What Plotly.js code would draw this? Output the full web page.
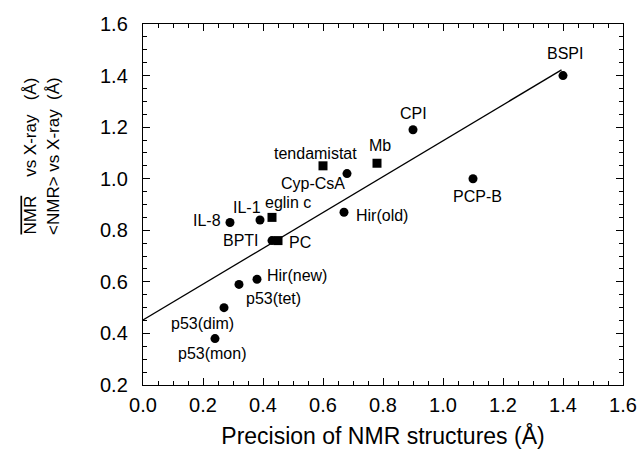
<!DOCTYPE html>
<html>
<head>
<meta charset="utf-8">
<script src="https://cdn.plot.ly/plotly-3.0.1.min.js"></script>
<style>html,body{margin:0;padding:0;background:#fff;}#chart{width:642px;height:462px;}</style>
</head>
<body>
<div id="chart"></div>
<script>
// ---- data ----
var circleNames = ["BSPI", "CPI", "PCP-B", "Cyp-CsA", "Hir(old)", "IL-1", "IL-8", "BPTI", "Hir(new)", "p53(tet)", "p53(dim)", "p53(mon)"];
var circleX = [1.40, 0.90, 1.10, 0.68, 0.67, 0.39, 0.29, 0.43, 0.38, 0.32, 0.27, 0.24];
var circleY = [1.40, 1.19, 1.00, 1.02, 0.87, 0.84, 0.83, 0.76, 0.61, 0.59, 0.50, 0.38];

var squareNames = ["tendamistat", "Mb", "eglin c", "PC"];
var squareX = [0.60, 0.78, 0.43, 0.45];
var squareY = [1.05, 1.06, 0.85, 0.76];

var fitX = [0.0, 1.395];
var fitY = [0.452, 1.422];

var xTickVals = [0.0, 0.2, 0.4, 0.6, 0.8, 1.0, 1.2, 1.4, 1.6];
var xTickText = ["0.0", "0.2", "0.4", "0.6", "0.8", "1.0", "1.2", "1.4", "1.6"];
var yTickVals = [0.2, 0.4, 0.6, 0.8, 1.0, 1.2, 1.4, 1.6];
var yTickText = ["0.2", "0.4", "0.6", "0.8", "1.0", "1.2", "1.4", "1.6"];

var xTitle = "Precision of NMR structures (Å)";
var yTitle = "<span style=\"text-decoration:overline\">NMR</span>&nbsp;&nbsp;&nbsp; vs X-ray&nbsp;&nbsp; (Å)<br>&lt;NMR&gt; vs X-ray&nbsp; (Å)";

// ---- label offsets (pixels, styling only) ----
var circleShift = {
  "BSPI": [2, 22], "CPI": [0, 16], "PCP-B": [4, -18], "Cyp-CsA": [-34, -10],
  "Hir(old)": [38, -3], "IL-1": [-13, 12], "IL-8": [-23, 2], "BPTI": [-31, 0],
  "Hir(new)": [40, 4], "p53(tet)": [34, -14], "p53(dim)": [-22, -16], "p53(mon)": [-3, -15]
};
var squareShift = {
  "tendamistat": [-8, 12], "Mb": [3, 18], "eglin c": [16, 15], "PC": [22, -2]
};

var FONT = "Liberation Sans, Arial, Helvetica, sans-serif";
var LABEL_SIZE = 16;

var traces = [
  {x: fitX, y: fitY, mode: "lines", type: "scatter", line: {color: "#000", width: 1.3}, hoverinfo: "skip"},
  {x: circleX, y: circleY, text: circleNames, mode: "markers", type: "scatter",
   marker: {symbol: "circle", size: 9, color: "#000"}},
  {x: squareX, y: squareY, text: squareNames, mode: "markers", type: "scatter",
   marker: {symbol: "square", size: 9, color: "#000"}},
  {x: [], y: [], xaxis: "x2", yaxis: "y2", type: "scatter", mode: "markers"}
];

var annotations = [];
circleNames.forEach(function (n, i) {
  annotations.push({x: circleX[i], y: circleY[i], xref: "x", yref: "y", text: n, showarrow: false,
    xshift: circleShift[n][0], yshift: circleShift[n][1], font: {family: FONT, size: LABEL_SIZE, color: "#000"}});
});
squareNames.forEach(function (n, i) {
  annotations.push({x: squareX[i], y: squareY[i], xref: "x", yref: "y", text: n, showarrow: false,
    xshift: squareShift[n][0], yshift: squareShift[n][1], font: {family: FONT, size: LABEL_SIZE, color: "#000"}});
});
// y-axis title (placed as a rotated annotation to match its off-centre position)
annotations.push({xref: "paper", yref: "paper", x: -0.21, y: 0.635, xanchor: "center", yanchor: "middle",
  textangle: -90, showarrow: false, text: yTitle, align: "center",
  font: {family: FONT, size: 17, color: "#000"}});

function tickStyle() {
  return {
    showgrid: false, zeroline: false, ticks: "inside", ticklen: 7, tickcolor: "#000", tickwidth: 1,
    minor: {dtick: 0.05, ticks: "inside", ticklen: 4, tickcolor: "#000", tickwidth: 1, showgrid: false}
  };
}

var layout = {
  width: 642, height: 462,
  margin: {l: 143, r: 19, t: 24, b: 77},
  paper_bgcolor: "#fff", plot_bgcolor: "#fff",
  showlegend: false,
  font: {family: FONT, color: "#000"},
  xaxis: Object.assign(tickStyle(), {
    showline: true, linecolor: "#000", linewidth: 1.2, mirror: true,
    range: [0, 1.6], tickmode: "array", tickvals: xTickVals, ticktext: xTickText,
    ticklabelstandoff: 2,
    tickfont: {family: FONT, size: 20, color: "#000"},
    title: {text: xTitle, font: {family: FONT, size: 23, color: "#000"}, standoff: 12}
  }),
  yaxis: Object.assign(tickStyle(), {
    showline: true, linecolor: "#000", linewidth: 1.2, mirror: true,
    range: [0.2, 1.6], tickmode: "array", tickvals: yTickVals, ticktext: yTickText,
    ticklabelstandoff: 10,
    tickfont: {family: FONT, size: 20, color: "#000"}
  }),
  xaxis2: Object.assign(tickStyle(), {
    overlaying: "x", side: "top", anchor: "y", range: [0, 1.6], tickmode: "array", tickvals: xTickVals,
    showticklabels: false, showline: false
  }),
  yaxis2: Object.assign(tickStyle(), {
    overlaying: "y", side: "right", anchor: "x", range: [0.2, 1.6], tickmode: "array", tickvals: yTickVals,
    showticklabels: false, showline: false
  }),
  annotations: annotations
};

Plotly.newPlot("chart", traces, layout, {displayModeBar: false, staticPlot: true});
</script>
</body>
</html>
